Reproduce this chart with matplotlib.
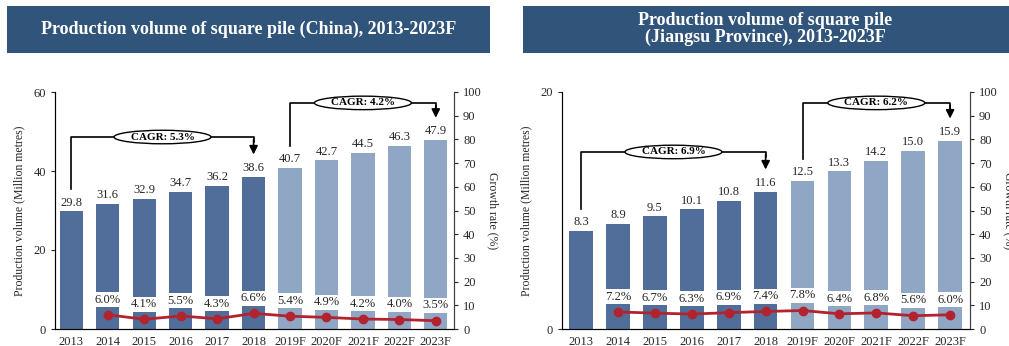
import numpy as np
import matplotlib
matplotlib.use('Agg')
import matplotlib.pyplot as plt
from matplotlib.patches import Rectangle, Ellipse
from matplotlib.transforms import ScaledTranslation

plt.rcParams['font.family'] = ['Liberation Serif', 'DejaVu Serif']

# --------------------------------------------------------------------------------------------------

years = ['2013', '2014', '2015', '2016', '2017', '2018',
         '2019F', '2020F', '2021F', '2022F', '2023F']
n_actual = 6

china_vol = [29.8, 31.6, 32.9, 34.7, 36.2, 38.6, 40.7, 42.7, 44.5, 46.3, 47.9]
china_growth = [np.nan, 6.0, 4.1, 5.5, 4.3, 6.6, 5.4, 4.9, 4.2, 4.0, 3.5]
china_cagr = [(0, 5, 'CAGR: 5.3%'), (6, 10, 'CAGR: 4.2%')]

js_vol = [8.3, 8.9, 9.5, 10.1, 10.8, 11.6, 12.5, 13.3, 14.2, 15.0, 15.9]
js_growth = [np.nan, 7.2, 6.7, 6.3, 6.9, 7.4, 7.8, 6.4, 6.8, 5.6, 6.0]
js_cagr = [(0, 5, 'CAGR: 6.9%'), (6, 10, 'CAGR: 6.2%')]

dark = '#506E99'
light = '#8FA7C4'
red = '#B3232F'
banner = '#30547A'
txt = '#262626'
fs = 9

# --------------------------------------------------------------------------------------------------

def plot_panel(fig, rect, vol, growth, cagr, ymax, yticks, xlim, bracket_y):

    ax = fig.add_axes(rect)
    x = np.arange(len(years))
    colors = [dark]*n_actual + [light]*(len(years)-n_actual)
    ax.bar(x, vol, width=0.64, color=colors, zorder=2)

    for xi, v in zip(x, vol):
        ax.annotate(f'{v:.1f}', xy=(xi, v), xytext=(0, 2), textcoords='offset points',
                    ha='center', va='bottom', fontsize=fs, color=txt)

    ax.set_ylim(0, ymax)
    ax.set_yticks(yticks)
    ax.set_xlim(*xlim)
    ax.set_xticks(x)
    ax.set_xticklabels(years)
    ax.tick_params(axis='x', length=0, labelsize=fs, colors=txt, pad=5)
    ax.tick_params(axis='y', length=3, labelsize=fs, colors=txt, direction='out')
    ax.set_ylabel('Production volume (Million metres)', fontsize=8.5, color=txt, labelpad=6)
    ax.spines['top'].set_visible(False)
    for s in ['left', 'bottom', 'right']:
        ax.spines[s].set_color('#404040')

    # growth rate on right axis
    ax2 = ax.twinx()
    ax2.set_ylim(0, 100)
    ax2.set_yticks(np.arange(0, 101, 10))
    ax2.tick_params(axis='y', length=3, labelsize=fs, colors=txt)
    ax2.set_ylabel('Growth rate (%)', fontsize=8.5, color=txt, rotation=270, labelpad=12)
    ax2.spines['top'].set_visible(False)
    ax2.spines['right'].set_color('#404040')
    ax2.plot(x, growth, color=red, lw=2, marker='o', ms=6, zorder=3)
    for xi, g in zip(x, growth):
        if np.isnan(g):
            continue
        ax2.annotate(f'{g:.1f}%', xy=(xi, g), xytext=(0, 11), textcoords='offset points',
                     ha='center', va='center', fontsize=fs, color=txt, zorder=4,
                     bbox=dict(boxstyle='square,pad=0.12', fc='white', ec='none'))

    # CAGR brackets
    off = 0.093*ymax
    for (i0, i1, label), by in zip(cagr, bracket_y):
        yh = by*100
        ax2.plot([x[i0], x[i0], x[i1], x[i1]],
                 [(vol[i0]+off)/ymax*100, yh, yh, yh-2],
                 color='black', lw=1.2, clip_on=False, zorder=5)
        ax2.annotate('', xy=(x[i1], (vol[i1]+off)/ymax*100), xytext=(x[i1], yh-1),
                     arrowprops=dict(arrowstyle='-|>,head_width=0.25,head_length=0.5',
                                     color='black', lw=1.2, shrinkA=0, shrinkB=0),
                     zorder=5, annotation_clip=False)
        xm = (x[i0]+x[i1])/2
        tr = fig.dpi_scale_trans + ScaledTranslation(xm, yh, ax2.transData)
        ax2.add_patch(Ellipse((0, 0), 0.97, 0.135, transform=tr, fc='white', ec='black',
                              lw=1.0, zorder=6, clip_on=False))
        ax2.text(xm, yh, label, ha='center', va='center', fontsize=8, fontweight='bold',
                 color='black', zorder=7, clip_on=False)
    return ax, ax2

# --------------------------------------------------------------------------------------------------

W, H = 1009, 346
fig = plt.figure(figsize=(W/100, H/100), dpi=100)

# title banners
fig.patches.append(Rectangle((7/W, 1-53/H), 483/W, 47/H, transform=fig.transFigure,
                             fc=banner, ec='none'))
fig.patches.append(Rectangle((523/W, 1-53/H), 486/W, 47/H, transform=fig.transFigure,
                             fc=banner, ec='none'))
fig.text(249/W, 1-29/H, 'Production volume of square pile (China), 2013-2023F',
         ha='center', va='center', color='white', fontsize=13, fontweight='bold')
fig.text(765/W, 1-29/H, 'Production volume of square pile\n(Jiangsu Province), 2013-2023F',
         ha='center', va='center', color='white', fontsize=13, fontweight='bold',
         linespacing=1.0)

plot_panel(fig, [55/W, 1-329/H, 399/W, 237/H], china_vol, china_growth, china_cagr,
           60, [0, 20, 40, 60], (-0.45, 10.5), [0.81, 0.954])
plot_panel(fig, [562/W, 1-329/H, 408/W, 237/H], js_vol, js_growth, js_cagr,
           20, [0, 20], (-0.52, 10.54), [0.747, 0.954])

fig.savefig('out.png', dpi=100)
